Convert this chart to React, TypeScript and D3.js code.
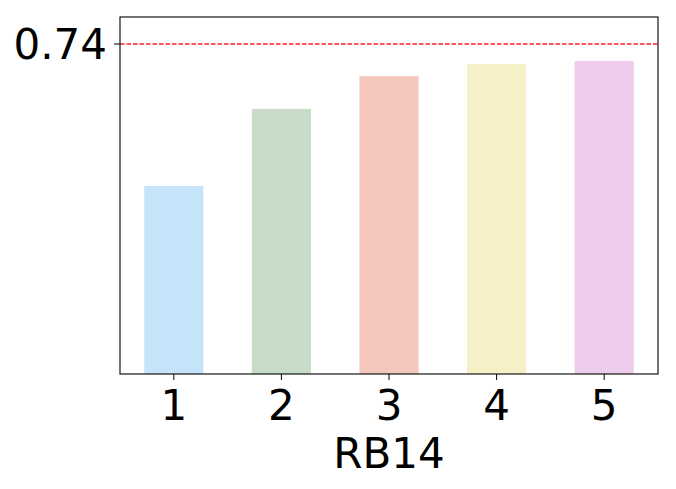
import React from "react";
import * as d3 from "d3";

const categories = [1, 2, 3, 4, 5];
const values = [0.6366, 0.6926, 0.7164, 0.7251, 0.7275];
const colors = ["#c5e4f9", "#c8dcc8", "#f4c8bc", "#f5f0c6", "#eecdec"];
const refValue = 0.74;
const yTickLabels = ["0.74"];
const xLabel = "RB14";

export default function App() {
  const W = 676, H = 489;
  const left = 120, right = 658, top = 17, bottom = 374;
  const x = d3.scaleLinear().domain([0.5, 5.5]).range([left, right]);
  const y = d3.scaleLinear().domain([0.5, 0.7594]).range([bottom, top]);
  const bw = x(0.55) - x(0);
  const font = "DejaVu Sans, sans-serif";
  const yr = Math.round(y(refValue)) + 0.0;
  return (
    <svg width={W} height={H} style={{ position: "absolute", left: 0, top: 0 }}>
      <rect x={0} y={0} width={W} height={H} fill="#fff" />
      {categories.map((c, i) => (
        <rect key={c} x={x(c) - bw / 2} y={y(values[i])} width={bw} height={bottom - y(values[i])} fill={colors[i]} />
      ))}
      <line x1={left} x2={right} y1={yr} y2={yr} stroke="#ff2020" strokeWidth={1.6} strokeDasharray="4.5,2" />
      <rect x={left} y={top} width={right - left} height={bottom - top} fill="none" stroke="#000" strokeWidth={1.1} />
      {categories.map((c) => (
        <g key={c}>
          <line x1={x(c)} x2={x(c)} y1={bottom} y2={bottom + 6} stroke="#000" strokeWidth={1} />
          <text x={x(c)} y={420} fontFamily={font} fontSize={42} textAnchor="middle">{c}</text>
        </g>
      ))}
      <line x1={left - 6} x2={left} y1={yr} y2={yr} stroke="#000" strokeWidth={1} />
      <text x={107} y={y(refValue) + 15.5} fontFamily={font} fontSize={42} textAnchor="end">{yTickLabels[0]}</text>
      <text x={(left + right) / 2} y={468} fontFamily={font} fontSize={42} textAnchor="middle">{xLabel}</text>
    </svg>
  );
}
